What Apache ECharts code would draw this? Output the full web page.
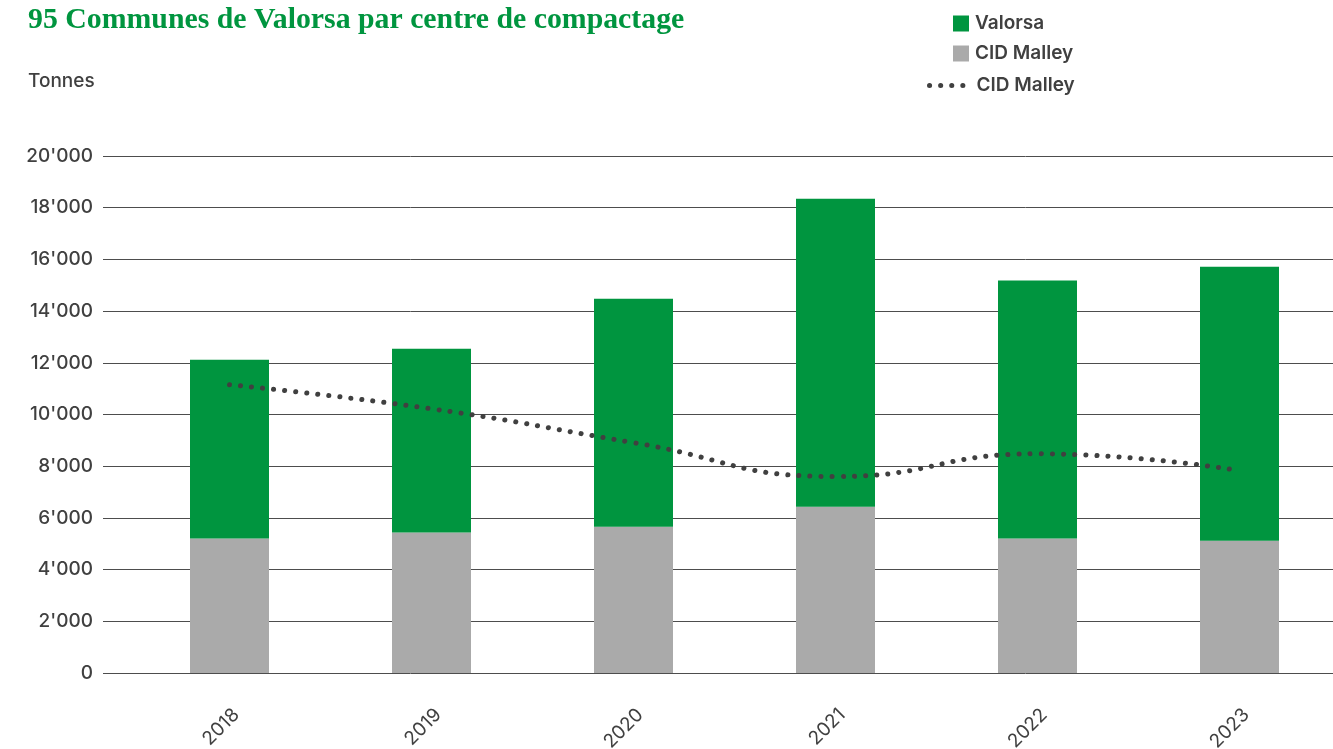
<!DOCTYPE html>
<html>
<head>
<meta charset="utf-8">
<title>95 Communes de Valorsa par centre de compactage</title>
<script src="https://cdn.jsdelivr.net/npm/echarts@6/dist/echarts.min.js"></script>
<style>
  html, body { margin: 0; padding: 0; background: #fff; }
  #chart { width: 1333px; height: 749px; }
</style>
</head>
<body>
<div id="chart"></div>
<script>
// données (tonnes)
var years = ["2018", "2019", "2020", "2021", "2022", "2023"];
var cidMalley = [5200, 5440, 5660, 6430, 5200, 5120];
var valorsa = [6920, 7105, 8820, 11915, 9980, 10600];
var cidMalleyLigne = [11150, 10220, 8910, 7600, 8480, 7830];
var yTicks = { min: 0, max: 20000, interval: 2000 };

var textColor = "#404040";
var green = "#00953f";
var grey = "#aaaaaa";
var dotted = { color: textColor, width: 5, type: [0.1, 11], cap: "round" };

function thousands(v) {
    return String(v).replace(/\B(?=(\d{3})+(?!\d))/g, "'");
}

var myChart = echarts.init(document.getElementById("chart"));

myChart.setOption({
    animation: false,
    textStyle: { fontFamily: "Inter" },
    title: [{
        text: "95 Communes de Valorsa par centre de compactage",
        left: 23,
        top: 0,
        textStyle: {
            fontFamily: "Liberation Serif",
            fontWeight: "bold",
            fontSize: 29.8,
            color: green
        }
    }, {
        text: "Tonnes",
        left: 23,
        top: 67,
        textStyle: { fontFamily: "Inter", fontWeight: 500, fontSize: 19, color: textColor }
    }],
    legend: [{
        data: ["Valorsa", "CID Malley"],
        orient: "vertical",
        left: 948,
        top: 9,
        itemWidth: 16,
        itemHeight: 16,
        itemGap: 11,
        icon: "rect",
        selectedMode: false,
        textStyle: { fontFamily: "Inter", fontWeight: 600, fontSize: 19, color: textColor, lineHeight: 16, padding: [0, 0, 0, 1] }
    }, {
        data: ["CID Malley ligne"],
        left: 922,
        top: 71,
        itemWidth: 42,
        itemHeight: 16,
        selectedMode: false,
        itemStyle: { opacity: 0 },
        lineStyle: dotted,
        formatter: function () { return "CID Malley"; },
        textStyle: { fontFamily: "Inter", fontWeight: 600, fontSize: 19, color: textColor, lineHeight: 16, padding: [0, 0, 0, 0] }
    }],
    grid: [
        // grille des lignes horizontales
        { left: 103, right: 0, top: 156, bottom: 76, outerBoundsMode: "none" },
        // grille des barres (un peu décalée vers la droite)
        { left: 128.5, width: 1212, top: 156, bottom: 76, outerBoundsMode: "none" }
    ],
    xAxis: [{
        gridIndex: 0,
        type: "category",
        data: years,
        show: false
    }, {
        gridIndex: 1,
        type: "category",
        data: years,
        axisLine: { show: false },
        axisTick: { show: false },
        axisLabel: {
            rotate: 45,
            margin: 32,
            fontSize: 19,
            verticalAlign: "top",
            color: textColor
        }
    }],
    yAxis: [{
        gridIndex: 0,
        type: "value",
        min: yTicks.min,
        max: yTicks.max,
        interval: yTicks.interval,
        axisLine: { show: false },
        axisTick: { show: false },
        axisLabel: {
            margin: 10,
            fontSize: 19,
            fontWeight: 500,
            color: textColor,
            formatter: thousands
        },
        splitLine: { lineStyle: { color: "#4d4d4d", width: 1 } }
    }, {
        gridIndex: 1,
        type: "value",
        min: yTicks.min,
        max: yTicks.max,
        interval: yTicks.interval,
        show: false,
        splitLine: { show: false }
    }],
    series: [{
        name: "CID Malley",
        type: "bar",
        stack: "total",
        xAxisIndex: 1,
        yAxisIndex: 1,
        barWidth: 79,
        itemStyle: { color: grey },
        data: cidMalley
    }, {
        name: "Valorsa",
        type: "bar",
        stack: "total",
        xAxisIndex: 1,
        yAxisIndex: 1,
        barWidth: 79,
        itemStyle: { color: green },
        data: valorsa
    }, {
        name: "CID Malley ligne",
        type: "line",
        xAxisIndex: 1,
        yAxisIndex: 1,
        smooth: 0.5,
        symbol: "none",
        z: 5,
        lineStyle: dotted,
        data: cidMalleyLigne
    }]
});
</script>
</body>
</html>
